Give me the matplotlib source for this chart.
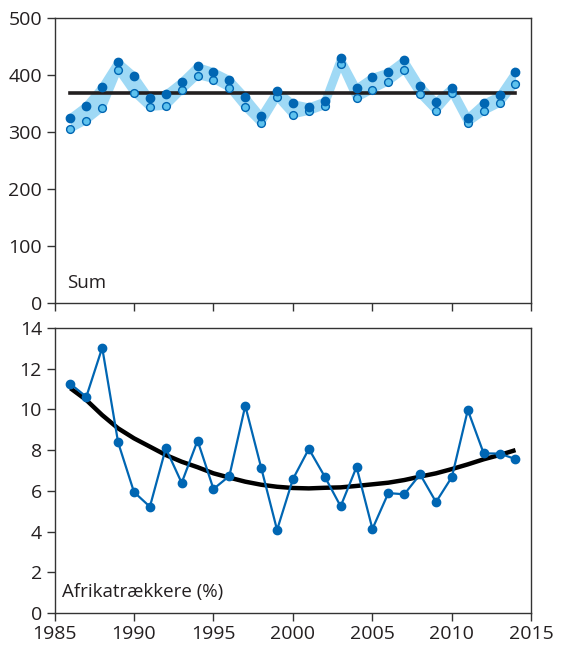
import numpy as np
import matplotlib.pyplot as plt

plt.rcParams['font.family'] = ['Open Sans', 'DejaVu Sans']

years = np.arange(1986, 2015)

# Sum panel: upper (dark) and lower (light) series, plus the horizontal mean
sum_upper = [325, 346, 379, 423, 399, 359, 366, 388, 415, 406, 392, 362, 328, 372, 350,
             344, 354, 429, 377, 396, 405, 426, 381, 353, 377, 325, 350, 364, 405]
sum_lower = [305, 320, 342, 409, 369, 343, 345, 373, 399, 392, 377, 343, 315, 361, 330,
             336, 346, 420, 359, 374, 388, 409, 366, 337, 369, 316, 336, 350, 385]
sum_mean = 368

# Afrikatrækkere (%) and its smoothed trend
afrika_pct = [11.25, 10.62, 13.03, 8.38, 5.94, 5.22, 8.09, 6.39, 8.47, 6.09, 6.73, 10.18,
              7.14, 4.08, 6.58, 8.06, 6.70, 5.24, 7.17, 4.13, 5.89, 5.83, 6.81, 5.45,
              6.68, 9.97, 7.84, 7.83, 7.56]
afrika_trend = [11.04, 10.46, 9.72, 9.07, 8.58, 8.17, 7.76, 7.43, 7.16, 6.86, 6.65, 6.45,
                6.30, 6.20, 6.14, 6.12, 6.15, 6.17, 6.24, 6.32, 6.40, 6.53, 6.70, 6.86,
                7.07, 7.30, 7.55, 7.76, 8.00]

dark_blue = '#0066b3'
band_blue = '#9fd9f5'
light_blue = '#5ec2ee'
ink = '#231f20'

fig = plt.figure(figsize=(5.65, 6.51), dpi=100)
ax1 = fig.add_axes([0.0965, 0.5346, 0.844, 0.4378])
ax2 = fig.add_axes([0.0965, 0.0584, 0.844, 0.4378])

# top panel
ax1.fill_between(years, sum_lower, sum_upper, color=band_blue, lw=0, zorder=1)
ax1.plot(years, sum_upper, color=band_blue, lw=5, solid_joinstyle='round', zorder=1)
ax1.plot(years, sum_lower, color=band_blue, lw=5, solid_joinstyle='round', zorder=1)
ax1.plot([years[0], years[-1]], [sum_mean, sum_mean], color=ink, lw=2.6, zorder=2)
ax1.plot(years, sum_lower, 'o', ms=5.6, mfc=light_blue, mec=dark_blue, mew=1.0, zorder=3)
ax1.plot(years, sum_upper, 'o', ms=6, color=dark_blue, zorder=4)
ax1.set_ylim(0, 500)
ax1.set_yticks(range(0, 501, 100))
ax1.text(0.027, 0.07, 'Sum', transform=ax1.transAxes, fontsize=13.5, color=ink,
         ha='left', va='center')

# bottom panel
ax2.plot(years, afrika_pct, '-o', color=dark_blue, lw=1.6, ms=6, zorder=3)
ax2.plot(years, afrika_trend, color='black', lw=3.2, solid_joinstyle='round',
         solid_capstyle='butt', zorder=2)
ax2.set_ylim(0, 14)
ax2.set_yticks(range(0, 15, 2))
ax2.text(0.016, 0.074, 'Afrikatrækkere (%)', transform=ax2.transAxes, fontsize=13.5,
         color=ink, ha='left', va='center')

for ax in (ax1, ax2):
    ax.set_xlim(1985, 2015)
    ax.set_xticks(range(1985, 2016, 5))
    for s in ax.spines.values():
        s.set_linewidth(1.0)
        s.set_color('#333333')
    ax.tick_params(direction='out', length=6, width=1.0, color='#333333',
                   labelsize=14, labelcolor=ink, pad=3)

ax1.tick_params(axis='x', labelbottom=False)

fig.savefig('out.png', dpi=100)
